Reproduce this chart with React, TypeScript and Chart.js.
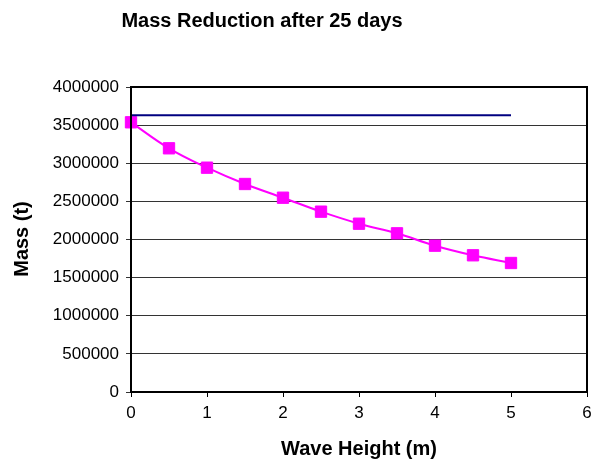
import React, { useEffect, useRef } from "react";
import { Chart, registerables } from "chart.js";

Chart.register(...registerables);

const waveHeights = [0, 0.5, 1, 1.5, 2, 2.5, 3, 3.5, 4, 4.5, 5];
const massReduced = [3537000, 3196000, 2942000, 2728000, 2548000, 2365000, 2207000, 2081000, 1919000, 1793000, 1692000];
const massInitial = [3630000, 3630000, 3630000, 3630000, 3630000, 3630000, 3630000, 3630000, 3630000, 3630000, 3630000];
const xTicks = [0, 1, 2, 3, 4, 5, 6];
const yTicks = [0, 500000, 1000000, 1500000, 2000000, 2500000, 3000000, 3500000, 4000000];

const titleText = "Mass Reduction after 25 days";
const xTitle = "Wave Height (m)";
const yTitle = "Mass (t)";

const FONT = "'Liberation Sans', Arial, sans-serif";

const textPlugin = {
  id: "texts",
  afterDraw(chart: any) {
    const { ctx, chartArea } = chart;
    ctx.save();
    ctx.strokeStyle = "#000";
    ctx.lineWidth = 2;
    ctx.strokeRect(chartArea.left, chartArea.top, chartArea.right - chartArea.left, chartArea.bottom - chartArea.top);
    ctx.fillStyle = "#000";
    ctx.textAlign = "center";
    ctx.textBaseline = "middle";
    ctx.font = `bold 20px ${FONT}`;
    ctx.fillText(titleText, 262, 21);
    ctx.fillText(xTitle, 359, 449);
    ctx.translate(22, 239);
    ctx.rotate(-Math.PI / 2);
    ctx.fillText(yTitle, 0, 0);
    ctx.restore();
  },
};

export default function App() {
  const ref = useRef<HTMLCanvasElement | null>(null);
  useEffect(() => {
    if (!ref.current) return;
    const chart = new Chart(ref.current, {
      type: "line",
      data: {
        datasets: [
          {
            data: waveHeights.map((x, i) => ({ x, y: massInitial[i] })),
            borderColor: "#000080",
            borderWidth: 2,
            pointRadius: 0,
            tension: 0,
            clip: 12,
          },
          {
            data: waveHeights.map((x, i) => ({ x, y: massReduced[i] })),
            borderColor: "#FF00FF",
            backgroundColor: "#FF00FF",
            borderWidth: 2,
            pointStyle: "rect",
            pointRadius: 8,
            pointBorderWidth: 1,
            tension: 0.4,
            clip: 12,
          },
        ],
      },
      options: {
        responsive: false,
        animation: false,
        layout: { autoPadding: false, padding: { top: 87, right: 5, left: 0, bottom: 0 } },
        plugins: { legend: { display: false }, tooltip: { enabled: false }, title: { display: false } },
        scales: {
          x: {
            type: "linear",
            min: 0,
            max: 6,
            afterBuildTicks: (s: any) => { s.ticks = xTicks.map((v) => ({ value: v })); },
            afterFit: (s: any) => { s.height = 70; },
            grid: { drawOnChartArea: false, drawTicks: true, tickLength: 5, color: "#000", lineWidth: 1 },
            border: { display: true, color: "#000", width: 2 },
            ticks: { color: "#000", font: { family: FONT, size: 17, lineHeight: 1.9 }, padding: 0, maxRotation: 0 },
          },
          y: {
            type: "linear",
            min: 0,
            max: 4000000,
            afterBuildTicks: (s: any) => { s.ticks = yTicks.map((v) => ({ value: v })); },
            afterFit: (s: any) => { s.width = 131; },
            grid: { drawOnChartArea: true, drawTicks: true, tickLength: 5, color: "#333", lineWidth: 1 },
            border: { display: true, color: "#000", width: 2 },
            ticks: { color: "#000", font: { family: FONT, size: 17 }, padding: 7, callback: (v: any) => String(v) },
          },
        },
      },
      plugins: [textPlugin],
    });
    return () => chart.destroy();
  }, []);
  return (
    <div style={{ position: "absolute", left: 0, top: 0, width: 592, height: 462, background: "#fff" }}>
      <canvas ref={ref} width={592} height={462} style={{ display: "block" }} />
    </div>
  );
}
